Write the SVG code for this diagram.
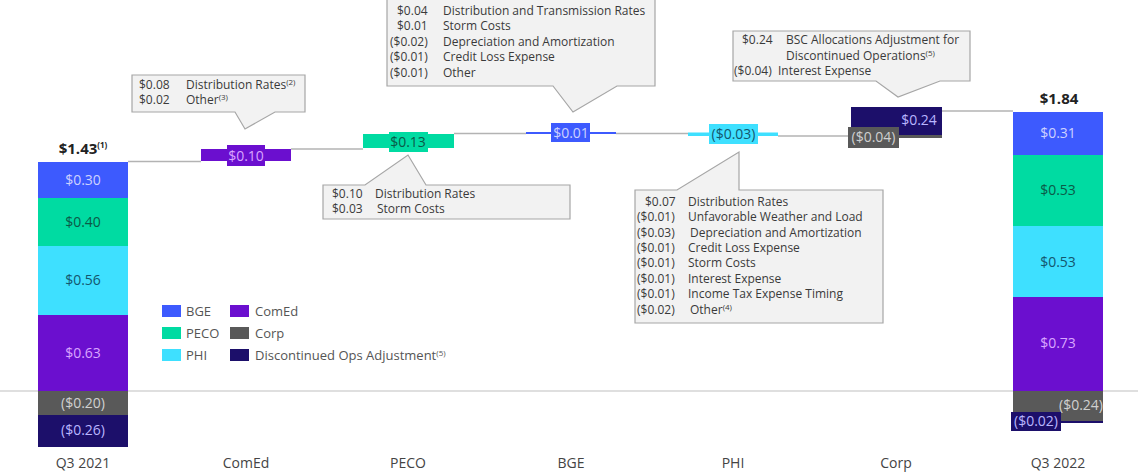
<svg xmlns="http://www.w3.org/2000/svg" width="1138" height="473" viewBox="0 0 1138 473">
<style>
text{font-family:"Open Sans","Liberation Sans",sans-serif}
.co{fill:#f2f2f2;stroke:#a6a6a6;stroke-width:1.2}
.ct{font-size:12px;fill:#3a3a3a}
.bl{font-size:14px;text-anchor:middle}
.ax{font-size:14px;fill:#444;text-anchor:middle}
.lg{font-size:13px;fill:#555}
.cn{stroke:#b3b3b3;stroke-width:1.5;fill:none}
.bge{fill:#3d5afe}.peco{fill:#00dba2}.phi{fill:#3ee0ff}.comed{fill:#6b0fcf}.corp{fill:#595959}.disc{fill:#1c0f6a}
.tbge{fill:#cdd2ff}.tpeco{fill:#0b5a48}.tphi{fill:#14566e}.tcomed{fill:#d9a6ff}.tcorp{fill:#d0d0d0}.tdisc{fill:#b9b6ff}
.sup{font-size:8px}
</style>
<rect width="1138" height="473" fill="#ffffff"/>
<line x1="0" y1="391" x2="1138" y2="391" stroke="#c0c0c0" stroke-width="1.2"/>
<g id="connectors">
<line class="cn" x1="128" y1="161.5" x2="201" y2="161.5"/>
<line class="cn" x1="291" y1="149" x2="363" y2="149"/>
<line class="cn" x1="454" y1="133.5" x2="526" y2="133.5"/>
<line class="cn" x1="616" y1="133.5" x2="688" y2="133.5"/>
<line class="cn" x1="778" y1="136" x2="851" y2="136"/>
<line class="cn" x1="942" y1="111" x2="1013" y2="111"/>
</g>
<g id="q3-2021">
<rect class="bge" x="38" y="162" width="90" height="36"/>
<rect class="peco" x="38" y="198" width="90" height="48"/>
<rect class="phi" x="38" y="246" width="90" height="69"/>
<rect class="comed" x="38" y="315" width="90" height="76"/>
<rect class="corp" x="38" y="391" width="90" height="24"/>
<rect class="disc" x="38" y="415" width="90" height="32"/>
<text class="bl tbge" x="83" y="185">$0.30</text>
<text class="bl tpeco" x="83" y="227">$0.40</text>
<text class="bl tphi" x="83" y="285">$0.56</text>
<text class="bl tcomed" x="83" y="358">$0.63</text>
<text class="bl tcorp" x="83" y="408">($0.20)</text>
<text class="bl tdisc" x="83" y="435">($0.26)</text>
<text x="83" y="154" text-anchor="middle" font-size="15" font-weight="bold" fill="#222">$1.43<tspan class="sup" dy="-6">(1)</tspan></text>
<text class="ax" x="83" y="468">Q3 2021</text>
</g>
<g id="comed">
<rect class="comed" x="201" y="149" width="90" height="12"/>
<rect class="comed" x="227" y="145" width="38" height="21"/>
<text class="bl tcomed" x="246" y="161">$0.10</text>
<text class="ax" x="246" y="468">ComEd</text>
</g>
<g id="peco">
<rect class="peco" x="363" y="134" width="91" height="14"/>
<rect class="peco" x="389" y="132" width="39" height="20"/>
<text class="bl tpeco" x="408" y="147">$0.13</text>
<text class="ax" x="408" y="468">PECO</text>
</g>
<g id="bge">
<rect class="bge" x="526" y="132" width="90" height="2"/>
<rect class="bge" x="551" y="123" width="39" height="19"/>
<text class="bl tbge" x="571" y="138">$0.01</text>
<text class="ax" x="571" y="468">BGE</text>
</g>
<g id="phi">
<rect class="phi" x="688" y="132.5" width="90" height="3.5"/>
<rect class="phi" x="709" y="124" width="49" height="20"/>
<text class="bl tphi" x="733.5" y="139">($0.03)</text>
<text class="ax" x="733" y="468">PHI</text>
</g>
<g id="corp">
<rect class="disc" x="851" y="107" width="91" height="30"/>
<rect class="corp" x="897" y="135" width="45" height="3"/>
<text class="bl tdisc" x="919" y="125">$0.24</text>
<rect class="corp" x="848" y="127" width="51" height="21"/>
<text class="bl tcorp" x="873.5" y="142">($0.04)</text>
<text class="ax" x="896" y="468">Corp</text>
</g>
<g id="q3-2022">
<rect class="bge" x="1013" y="112" width="90" height="43"/>
<rect class="peco" x="1013" y="155" width="90" height="71"/>
<rect class="phi" x="1013" y="226" width="90" height="71"/>
<rect class="comed" x="1013" y="297" width="90" height="94"/>
<rect class="corp" x="1013" y="391" width="90" height="30"/>
<rect class="disc" x="1013" y="421" width="90" height="2"/>
<text class="bl tbge" x="1058" y="138">$0.31</text>
<text class="bl tpeco" x="1058" y="195">$0.53</text>
<text class="bl tphi" x="1058" y="267">$0.53</text>
<text class="bl tcomed" x="1058" y="348">$0.73</text>
<text class="tcorp" x="1103" y="410" font-size="14" text-anchor="end">($0.24)</text>
<rect class="disc" x="1011" y="412" width="50" height="19"/>
<text class="bl tdisc" x="1036" y="426">($0.02)</text>
<text x="1059" y="104" text-anchor="middle" font-size="15" font-weight="bold" fill="#222">$1.84</text>
<text class="ax" x="1058" y="468">Q3 2022</text>
</g>
<g id="callout-comed">
<path class="co" d="M132,75 H305 V112 H275 L245,129 L235,112 H132 Z"/>
<text class="ct" x="139" y="89">$0.08</text>
<text class="ct" x="186" y="89">Distribution Rates<tspan class="sup" dy="-4">(2)</tspan></text>
<text class="ct" x="139" y="104">$0.02</text>
<text class="ct" x="186" y="104">Other<tspan class="sup" dy="-4">(3)</tspan></text>
</g>
<g id="callout-peco">
<path class="co" d="M323,185 H365 L408,155 L426,185 H570 V219 H323 Z"/>
<text class="ct" x="332" y="198">$0.10</text>
<text class="ct" x="375" y="198">Distribution Rates</text>
<text class="ct" x="332" y="213">$0.03</text>
<text class="ct" x="377" y="213">Storm Costs</text>
</g>
<g id="callout-bge">
<path class="co" d="M387,-1 H655 V86 H617 L573,112 L553,86 H387 Z"/>
<text class="ct" x="397" y="15">$0.04</text>
<text class="ct" x="443" y="15">Distribution and Transmission Rates</text>
<text class="ct" x="397" y="30">$0.01</text>
<text class="ct" x="443" y="30">Storm Costs</text>
<text class="ct" x="390" y="46">($0.02)</text>
<text class="ct" x="443" y="46">Depreciation and Amortization</text>
<text class="ct" x="390" y="61">($0.01)</text>
<text class="ct" x="443" y="61">Credit Loss Expense</text>
<text class="ct" x="390" y="77">($0.01)</text>
<text class="ct" x="443" y="77">Other</text>
</g>
<g id="callout-phi">
<path class="co" d="M635,190 H677 L739,152 V190 H883 V323 H635 Z"/>
<text class="ct" x="645" y="206">$0.07</text>
<text class="ct" x="688" y="206">Distribution Rates</text>
<text class="ct" x="637" y="221">($0.01)</text>
<text class="ct" x="688" y="221">Unfavorable Weather and Load</text>
<text class="ct" x="637" y="237">($0.03)</text>
<text class="ct" x="690" y="237">Depreciation and Amortization</text>
<text class="ct" x="637" y="252">($0.01)</text>
<text class="ct" x="688" y="252">Credit Loss Expense</text>
<text class="ct" x="637" y="267">($0.01)</text>
<text class="ct" x="688" y="267">Storm Costs</text>
<text class="ct" x="637" y="283">($0.01)</text>
<text class="ct" x="688" y="283">Interest Expense</text>
<text class="ct" x="637" y="298">($0.01)</text>
<text class="ct" x="688" y="298">Income Tax Expense Timing</text>
<text class="ct" x="637" y="314">($0.02)</text>
<text class="ct" x="690" y="314">Other<tspan class="sup" dy="-4">(4)</tspan></text>
</g>
<g id="callout-corp">
<path class="co" d="M733,31 H970 V81 H940 L898,97 L876,81 H733 Z"/>
<text class="ct" x="742" y="44">$0.24</text>
<text class="ct" x="786" y="44">BSC Allocations Adjustment for</text>
<text class="ct" x="786" y="60">Discontinued Operations<tspan class="sup" dy="-4">(5)</tspan></text>
<text class="ct" x="734" y="75">($0.04)</text>
<text class="ct" x="778" y="75">Interest Expense</text>
</g>
<g id="legend">
<rect class="bge" x="162" y="305" width="19" height="12"/>
<text class="lg" x="186" y="316">BGE</text>
<rect class="peco" x="162" y="327" width="19" height="12"/>
<text class="lg" x="186" y="338">PECO</text>
<rect class="phi" x="162" y="349" width="19" height="12"/>
<text class="lg" x="186" y="360">PHI</text>
<rect class="comed" x="230" y="305" width="19" height="12"/>
<text class="lg" x="255" y="316">ComEd</text>
<rect class="corp" x="230" y="327" width="19" height="12"/>
<text class="lg" x="255" y="338">Corp</text>
<rect class="disc" x="230" y="349" width="19" height="12"/>
<text class="lg" x="255" y="360">Discontinued Ops Adjustment<tspan class="sup" dy="-4">(5)</tspan></text>
</g>
</svg>
